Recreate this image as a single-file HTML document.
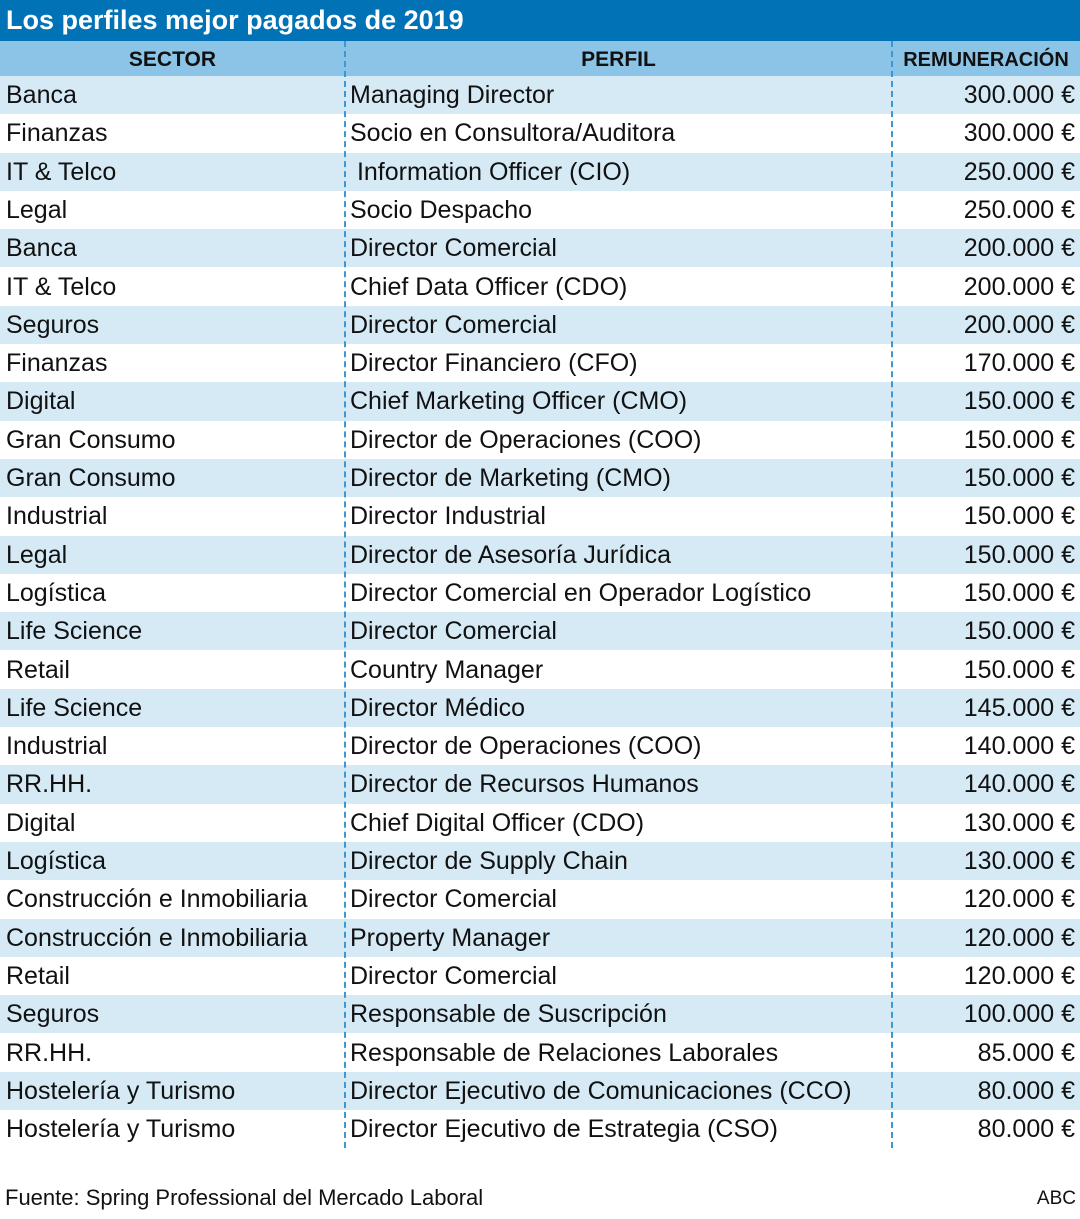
<!DOCTYPE html>
<html><head><meta charset="utf-8">
<style>
body{margin:0;width:1080px;height:1219px;background:#fff;font-family:"Liberation Sans",sans-serif;position:relative;overflow:hidden;color:#111}
#title{position:absolute;left:0;top:0;width:1080px;height:41px;background:#0072b5;color:#fff;font-weight:bold;font-size:27px;line-height:41px;padding-left:6px;box-sizing:border-box}
.hdr{position:absolute;top:41px;height:35px;background:#8cc4e8;font-weight:bold;font-size:21px;line-height:38px;text-align:center}
.row{position:absolute;left:0;width:1080px;height:38.3px;font-size:25px;line-height:38px}
.row div{position:absolute;top:0;white-space:nowrap}
.vline{position:absolute;top:41px;height:1107px;border-left:2px dashed #3d97d3}
#source{position:absolute;left:5px;top:1185px;font-size:22px}
#abc{position:absolute;right:4px;top:1188px;font-size:19px}
</style></head><body>
<div id="title">Los perfiles mejor pagados de 2019</div>
<div class="hdr" style="left:0;width:345px">SECTOR</div>
<div class="hdr" style="left:345px;width:547px">PERFIL</div>
<div class="hdr" style="left:892px;width:188px;font-size:20px">REMUNERACIÓN</div>
<div id="rows"></div>
<div class="vline" style="left:344px"></div>
<div class="vline" style="left:891px"></div>
<div id="source">Fuente: Spring Professional del Mercado Laboral</div>
<div id="abc">ABC</div>
<script>
const sectors=["Banca","Finanzas","IT & Telco","Legal","Banca","IT & Telco","Seguros","Finanzas","Digital","Gran Consumo","Gran Consumo","Industrial","Legal","Logística","Life Science","Retail","Life Science","Industrial","RR.HH.","Digital","Logística","Construcción e Inmobiliaria","Construcción e Inmobiliaria","Retail","Seguros","RR.HH.","Hostelería y Turismo","Hostelería y Turismo"];
const perfiles=["Managing Director","Socio en Consultora/Auditora"," Information Officer (CIO)","Socio Despacho","Director Comercial","Chief Data Officer (CDO)","Director Comercial","Director Financiero (CFO)","Chief Marketing Officer (CMO)","Director de Operaciones (COO)","Director de Marketing (CMO)","Director Industrial","Director de Asesoría Jurídica","Director Comercial en Operador Logístico","Director Comercial","Country Manager","Director Médico","Director de Operaciones (COO)","Director de Recursos Humanos","Chief Digital Officer (CDO)","Director de Supply Chain","Director Comercial","Property Manager","Director Comercial","Responsable de Suscripción","Responsable de Relaciones Laborales","Director Ejecutivo de Comunicaciones (CCO)","Director Ejecutivo de Estrategia (CSO)"];
const salaries=[300000,300000,250000,250000,200000,200000,200000,170000,150000,150000,150000,150000,150000,150000,150000,150000,145000,140000,140000,130000,130000,120000,120000,120000,100000,85000,80000,80000];
const fmt=v=>String(v).replace(/\B(?=(\d{3})+(?!\d))/g,".")+" €";
const wrap=document.getElementById("rows");
sectors.forEach((s,i)=>{
  const r=document.createElement("div");
  
  
  r.className="row";
  r.style.top=(76+i*38.3)+"px";
  r.style.background=i%2===0?"#d6eaf6":"#fff";
  const a=document.createElement("div");
  
  
  a.style.left="6px";a.textContent=s;
  const b=document.createElement("div");
  
  
  b.style.left="350px";b.style.whiteSpace="pre";b.textContent=perfiles[i];
  const c=document.createElement("div");
  
  
  c.style.right="5px";c.textContent=fmt(salaries[i]);
  r.append(a,b,c);wrap.appendChild(r);
});
</script>
</body></html>
